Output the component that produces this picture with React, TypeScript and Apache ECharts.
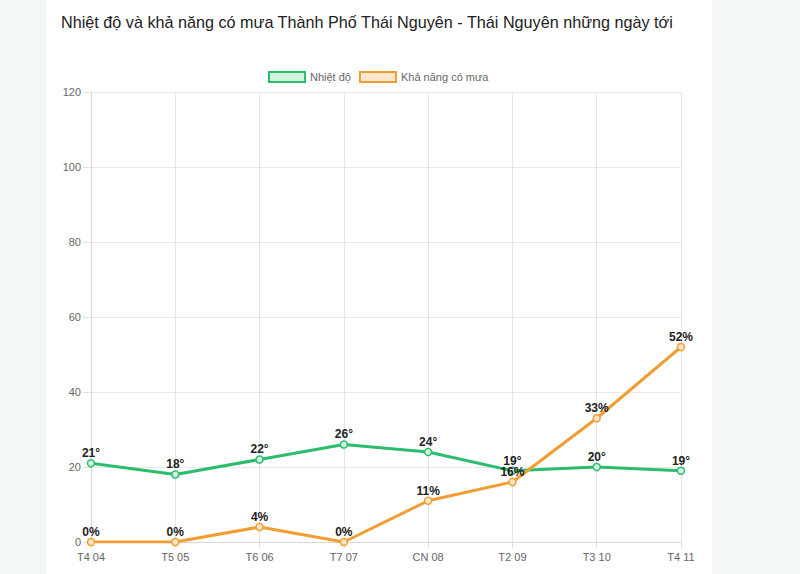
import React, { useEffect, useRef } from "react";
import * as echarts from "echarts";

const categories = ["T4 04", "T5 05", "T6 06", "T7 07", "CN 08", "T2 09", "T3 10", "T4 11"];
const temperature = [21, 18, 22, 26, 24, 19, 20, 19];
const rainChance = [0, 0, 4, 0, 11, 16, 33, 52];
const yTicks = { min: 0, max: 120, interval: 20 };

const GREEN = "#2bbd6e";
const GREEN_FILL = "#d2f3df";
const ORANGE = "#f19d33";
const ORANGE_FILL = "#fde8cd";

export default function App() {
  const ref = useRef<HTMLDivElement>(null);
  useEffect(() => {
    if (!ref.current) return;
    const chart = echarts.init(ref.current, undefined, { renderer: "svg" });
    const font = "'Liberation Sans', Arial, sans-serif";
    const labelStyle = {
      show: true,
      position: "top",
      distance: 0,
      color: "#222",
      fontSize: 12,
      fontWeight: "bold",
      fontFamily: font,
    };
    chart.setOption({
      animation: false,
      backgroundColor: "#f4f7f8",
      textStyle: { fontFamily: font },
      graphic: [
        {
          type: "rect",
          z: -10,
          silent: true,
          shape: { x: 46, y: 0, width: 666, height: 574 },
          style: { fill: "#ffffff" },
        },
      ],
      title: {
        text: "Nhiệt độ và khả năng có mưa Thành Phố Thái Nguyên - Thái Nguyên những ngày tới",
        left: 56,
        top: 9,
        textStyle: { fontSize: 16.2, fontWeight: "normal", color: "#222", fontFamily: font },
      },
      legend: {
        top: 66,
        left: 263,
        itemWidth: 36,
        itemHeight: 10,
        itemGap: 8,
        icon: "rect",
        textStyle: { fontSize: 11, color: "#666", fontFamily: font },
        data: [
          { name: "Nhiệt độ", itemStyle: { color: GREEN_FILL, borderColor: GREEN, borderWidth: 2 } },
          { name: "Khả năng có mưa", itemStyle: { color: ORANGE_FILL, borderColor: ORANGE, borderWidth: 2 } },
        ],
      },
      grid: { left: 91, right: 119, top: 92, bottom: 32, containLabel: false },
      xAxis: {
        type: "category",
        data: categories,
        boundaryGap: false,
        axisLine: { show: true, lineStyle: { color: "#d9d9d9" } },
        axisTick: { show: true, length: 6, lineStyle: { color: "#e0e0e0" } },
        axisLabel: { color: "#666", fontSize: 11, margin: 9, fontFamily: font },
        splitLine: { show: true, lineStyle: { color: "#e6e6e6" } },
      },
      yAxis: {
        type: "value",
        min: yTicks.min,
        max: yTicks.max,
        interval: yTicks.interval,
        axisLine: { show: true, lineStyle: { color: "#d9d9d9" } },
        axisTick: { show: true, length: 8, lineStyle: { color: "#e0e0e0" } },
        axisLabel: { color: "#666", fontSize: 11, margin: 10, fontFamily: font },
        splitLine: { show: true, lineStyle: { color: "#e9e9e9" } },
      },
      series: [
        {
          name: "Nhiệt độ",
          type: "line",
          data: temperature,
          symbol: "circle",
          symbolSize: 7,
          lineStyle: { color: GREEN, width: 3 },
          itemStyle: { color: GREEN_FILL, borderColor: GREEN, borderWidth: 1.5 },
          label: { ...labelStyle, formatter: (p: any) => p.value + "°" },
        },
        {
          name: "Khả năng có mưa",
          type: "line",
          data: rainChance,
          symbol: "circle",
          symbolSize: 7,
          lineStyle: { color: ORANGE, width: 3 },
          itemStyle: { color: ORANGE_FILL, borderColor: ORANGE, borderWidth: 1.5 },
          label: { ...labelStyle, formatter: (p: any) => p.value + "%" },
        },
      ],
    });
    return () => chart.dispose();
  }, []);
  return (
    <div
      ref={ref}
      style={{ position: "fixed", left: 0, top: 0, width: 800, height: 574 }}
    />
  );
}
